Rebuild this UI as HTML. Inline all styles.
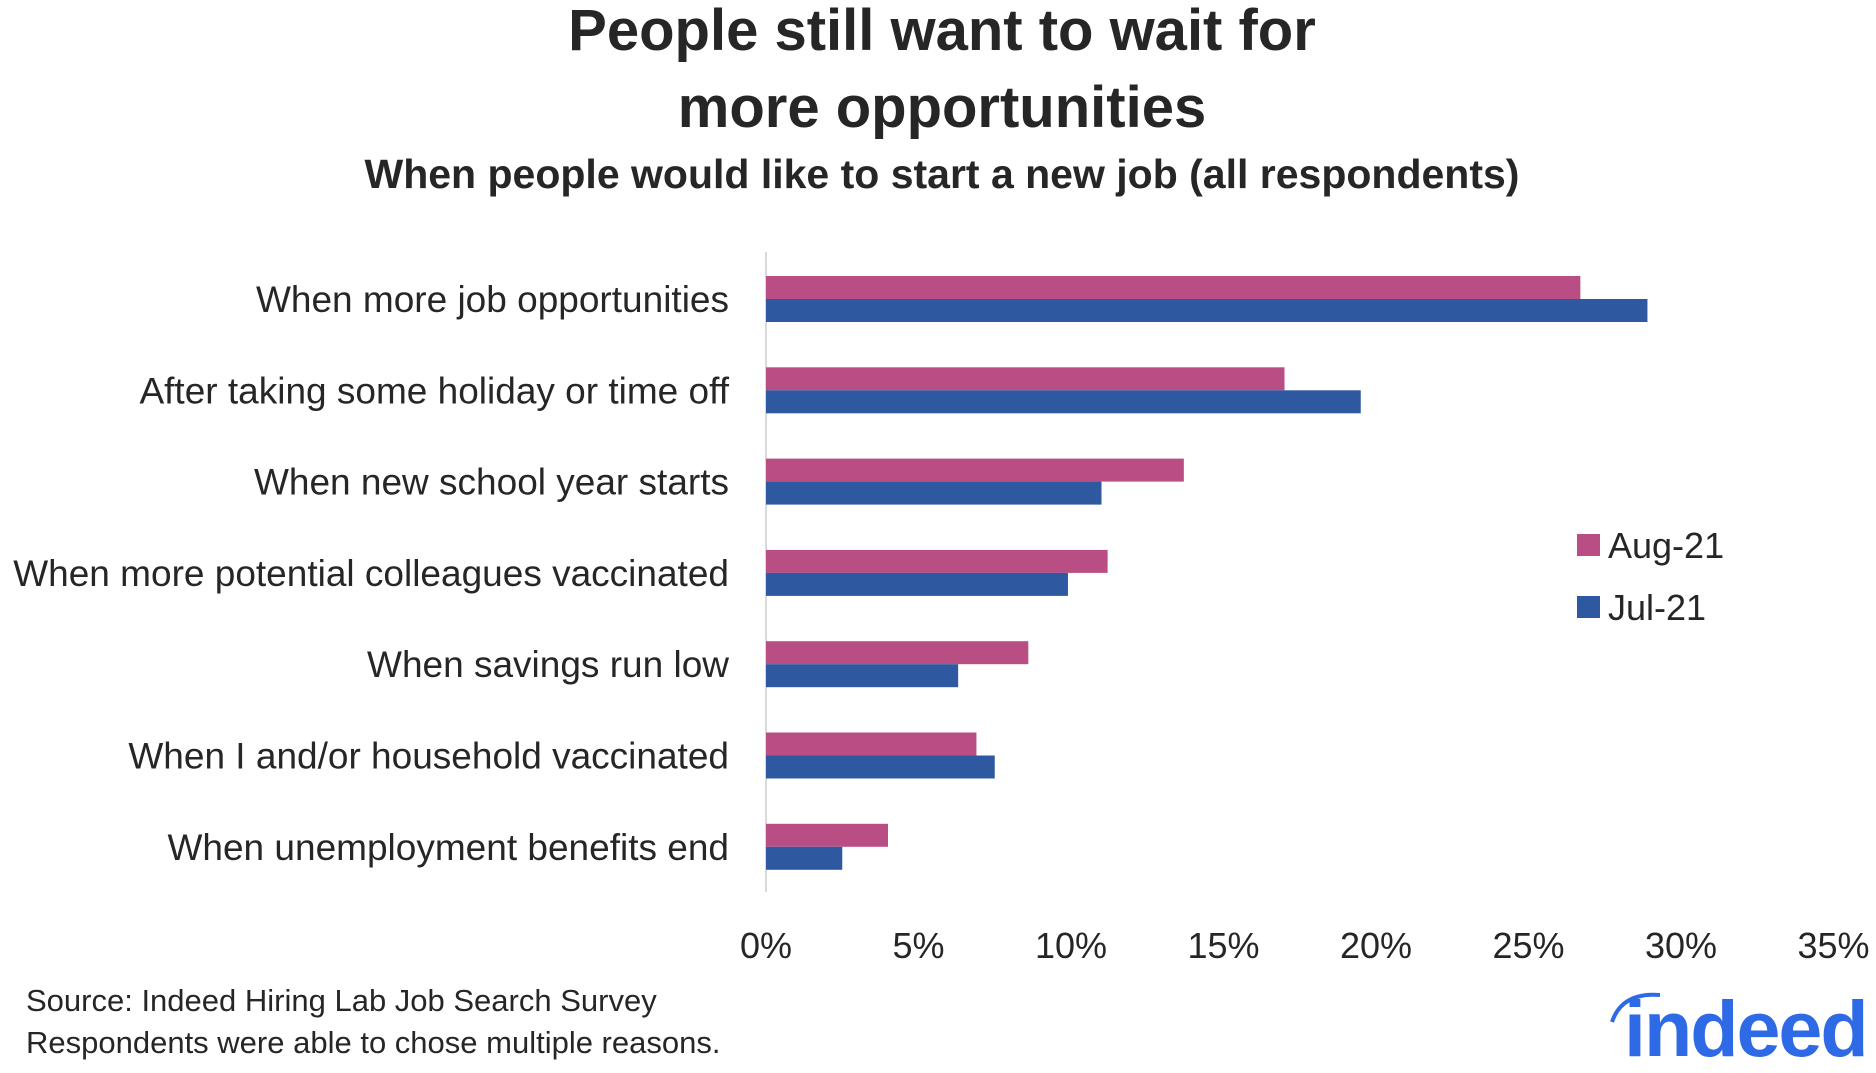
<!DOCTYPE html>
<html><head><meta charset="utf-8"><style>
body{margin:0;background:#fff;width:1876px;height:1068px;overflow:hidden;font-family:"Liberation Sans",sans-serif;}
</style></head><body>
<svg width="1876" height="1068" id="svg" font-family="Liberation Sans, sans-serif">
<text x="942" y="50" text-anchor="middle" font-size="58" font-weight="bold" fill="#262626">People still want to wait for</text>
<text x="942" y="127" text-anchor="middle" font-size="58" font-weight="bold" fill="#262626">more opportunities</text>
<text x="942" y="188" text-anchor="middle" font-size="41" font-weight="bold" fill="#262626">When people would like to start a new job (all respondents)</text>
<line x1="766" y1="252" x2="766" y2="892" stroke="#d9d9d9" stroke-width="2"/>
<g id="bars"></g>
<rect x="1577" y="534" width="23" height="22" fill="#b94e84"/>
<text x="1608" y="558" font-size="36" fill="#262626">Aug-21</text>
<rect x="1577" y="596" width="23" height="22" fill="#2e59a1"/>
<text x="1608" y="620" font-size="36" fill="#262626">Jul-21</text>
<text x="26" y="1011" font-size="31" fill="#262626">Source: Indeed Hiring Lab Job Search Survey</text>
<text x="26" y="1053" font-size="31" fill="#262626">Respondents were able to chose multiple reasons.</text>
<g>
<path d="M1612 1022 Q1622 992 1660 995" stroke="#2f6ae6" stroke-width="4" fill="none"/>
<text x="1624" y="1056" font-size="79" font-weight="bold" fill="#2f6ae6" letter-spacing="-2">indeed</text>
</g>
</svg>
<script>
const categories=["When more job opportunities","After taking some holiday or time off","When new school year starts","When more potential colleagues vaccinated","When savings run low","When I and/or household vaccinated","When unemployment benefits end"];
const aug21=[26.7,17.0,13.7,11.2,8.6,6.9,4.0];
const jul21=[28.9,19.5,11.0,9.9,6.3,7.5,2.5];
const ticks=[0,5,10,15,20,25,30,35];
const NS="http://www.w3.org/2000/svg";
const g=document.getElementById('bars');
const x=v=>766+v*30.5;
const yTop=i=>276+i*91.3;
const BH=23;
function mk(t,a){const e=document.createElementNS(NS,t);for(const k in a)e.setAttribute(k,a[k]);g.appendChild(e);return e;}
categories.forEach((c,i)=>{
  const a=mk('rect',{x:x(0),y:yTop(i),width:x(aug21[i])-x(0),height:BH,fill:'#b94e84'});
  
  
  const b=mk('rect',{x:x(0),y:yTop(i)+BH,width:x(jul21[i])-x(0),height:BH,fill:'#2e59a1'});
  
  
  const t=mk('text',{x:729,y:yTop(i)+BH+13,'text-anchor':'end','font-size':37,fill:'#262626'});
  t.textContent=c;
  
  
});
ticks.forEach(v=>{
  const t=mk('text',{x:x(v),y:958,'text-anchor':'middle','font-size':36,fill:'#262626'});
  t.textContent=v+'%';
  
  
});
</script>
</body></html>
